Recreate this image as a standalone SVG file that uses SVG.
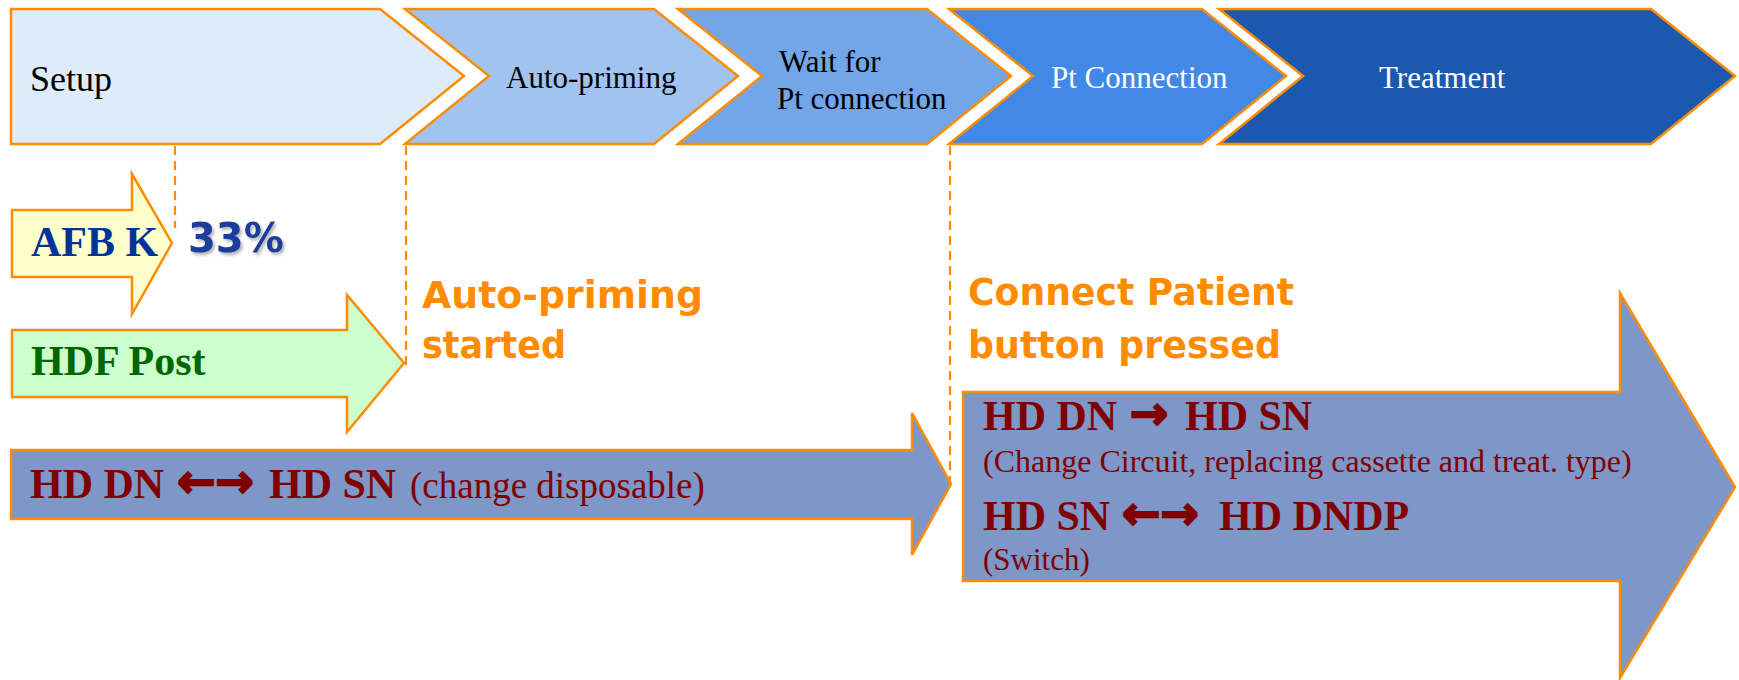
<svg xmlns="http://www.w3.org/2000/svg" width="1739" height="680" viewBox="0 0 1739 680">
  <defs>
    <style>
      .stage { stroke: #FF8C00; stroke-width: 2.5; stroke-linejoin: miter; }
      .block { stroke: #FF8C00; stroke-width: 2.5; stroke-linejoin: miter; }
      .lead { stroke: #FF8C00; stroke-width: 2.2; stroke-dasharray: 9 6; fill: none; }
      .serif { font-family: "Liberation Serif", "Times New Roman", serif; }
      .stageText { font-family: "Liberation Serif", "Times New Roman", serif; font-size: 31px; }
      .bold42 { font-family: "Liberation Serif", "Times New Roman", serif; font-size: 42px; font-weight: bold; }
      .arrowGlyph { font-family: "DejaVu Sans", sans-serif; font-size: 46px; font-weight: bold; stroke: #800000; stroke-width: 2; }
      .event { font-family: "DejaVu Sans", Verdana, sans-serif; font-size: 37px; font-weight: bold; fill: #FF8C00; }
      .red { fill: #800000; }
    </style>
    <filter id="soft" x="-10%" y="-20%" width="130%" height="150%">
      <feDropShadow dx="2" dy="2.5" stdDeviation="1.5" flood-color="#000" flood-opacity="0.3"/>
    </filter>
  </defs>

  <!-- phase chevrons -->
  <g id="phase-setup">
    <path class="stage" fill="#DEEBF8" d="M11,9 L380,9 L464,76 L380,144 L11,144 Z"/>
    <text class="serif" x="30" y="91" font-size="36" fill="#000">Setup</text>
  </g>
  <g id="phase-autopriming">
    <path class="stage" fill="#A0C3EF" d="M405,9 L654,9 L738,76 L654,144 L405,144 L489,76 Z"/>
    <text class="stageText" x="506" y="88" fill="#000">Auto-priming</text>
  </g>
  <g id="phase-wait">
    <path class="stage" fill="#73A6E9" d="M678,9 L927,9 L1011,76 L927,144 L678,144 L762,76 Z"/>
    <text class="stageText" x="779" y="72" fill="#000">Wait for</text>
    <text class="stageText" x="777" y="109" fill="#000">Pt connection</text>
  </g>
  <g id="phase-ptconnection">
    <path class="stage" fill="#4288E5" d="M949,9 L1202,9 L1286,76 L1202,144 L949,144 L1033,76 Z"/>
    <text class="stageText" x="1051" y="88" fill="#FFFFFF">Pt Connection</text>
  </g>
  <g id="phase-treatment">
    <path class="stage" fill="#1A59AD" d="M1219,9 L1651,9 L1735,76 L1651,144 L1219,144 L1303,76 Z"/>
    <text class="stageText" x="1379" y="88" fill="#FFFFFF">Treatment</text>
  </g>

  <!-- dashed leaders from the phase boundaries -->
  <g id="connectors">
    <line class="lead" x1="175" y1="146" x2="175" y2="228"/>
    <line class="lead" x1="406" y1="146" x2="406" y2="370"/>
    <line class="lead" x1="950" y1="146" x2="950" y2="486"/>
  </g>

  <!-- AFB K -->
  <g id="afb-k">
    <path class="block" fill="#FFFFCC" d="M12,210 L132,210 L132,174 L172,243 L132,314 L132,277 L12,277 Z"/>
    <text class="bold42" x="31" y="256" fill="#003399">AFB K</text>
  </g>
  <g id="afb-percent">
    <text x="188" y="252" font-family="DejaVu Sans, Verdana, sans-serif" font-weight="bold" font-size="40" fill="#1F3D99" filter="url(#soft)">33%</text>
  </g>

  <!-- HDF Post -->
  <g id="hdf-post">
    <path class="block" fill="#CCFFCC" d="M12,330 L347,330 L347,295 L404,363 L347,432 L347,397 L12,397 Z"/>
    <text class="bold42" x="31" y="375" fill="#006600">HDF Post</text>
  </g>

  <!-- event labels -->
  <g id="event-autopriming">
    <text class="event" x="422" y="308" textLength="281" lengthAdjust="spacingAndGlyphs">Auto-priming</text>
    <text class="event" x="422" y="358" textLength="144" lengthAdjust="spacingAndGlyphs">started</text>
  </g>
  <g id="event-connect">
    <text class="event" x="968" y="305" textLength="326" lengthAdjust="spacingAndGlyphs">Connect Patient</text>
    <text class="event" x="968" y="358" textLength="313" lengthAdjust="spacingAndGlyphs">button pressed</text>
  </g>

  <!-- change disposable during setup -->
  <g id="change-disposable">
    <path class="block" fill="#7E97C8" d="M11,450 L912,450 L912,413 L951,484 L912,555 L912,519 L11,519 Z"/>
    <text class="bold42 red" x="30" y="498">HD DN</text>
    <text class="arrowGlyph red" x="177" y="497">←→</text>
    <text class="bold42 red" x="269" y="498">HD SN</text>
    <text class="serif red" x="410" y="498" font-size="37">(change disposable)</text>
  </g>

  <!-- changes after patient connection -->
  <g id="change-connected">
    <path class="block" fill="#7E97C8" d="M963,392 L1620,392 L1620,293 L1735,487 L1620,678 L1620,581 L963,581 Z"/>
    <text class="bold42 red" x="983" y="430">HD DN</text>
    <text class="arrowGlyph red" x="1130" y="429">→</text>
    <text class="bold42 red" x="1185" y="430">HD SN</text>
    <text class="serif red" x="983" y="472" font-size="32">(Change Circuit, replacing cassette and treat. type)</text>
    <text class="bold42 red" x="983" y="530">HD SN</text>
    <text class="arrowGlyph red" x="1122" y="529">←→</text>
    <text class="bold42 red" x="1219" y="530">HD DNDP</text>
    <text class="serif red" x="983" y="570" font-size="31">(Switch)</text>
  </g>
</svg>
